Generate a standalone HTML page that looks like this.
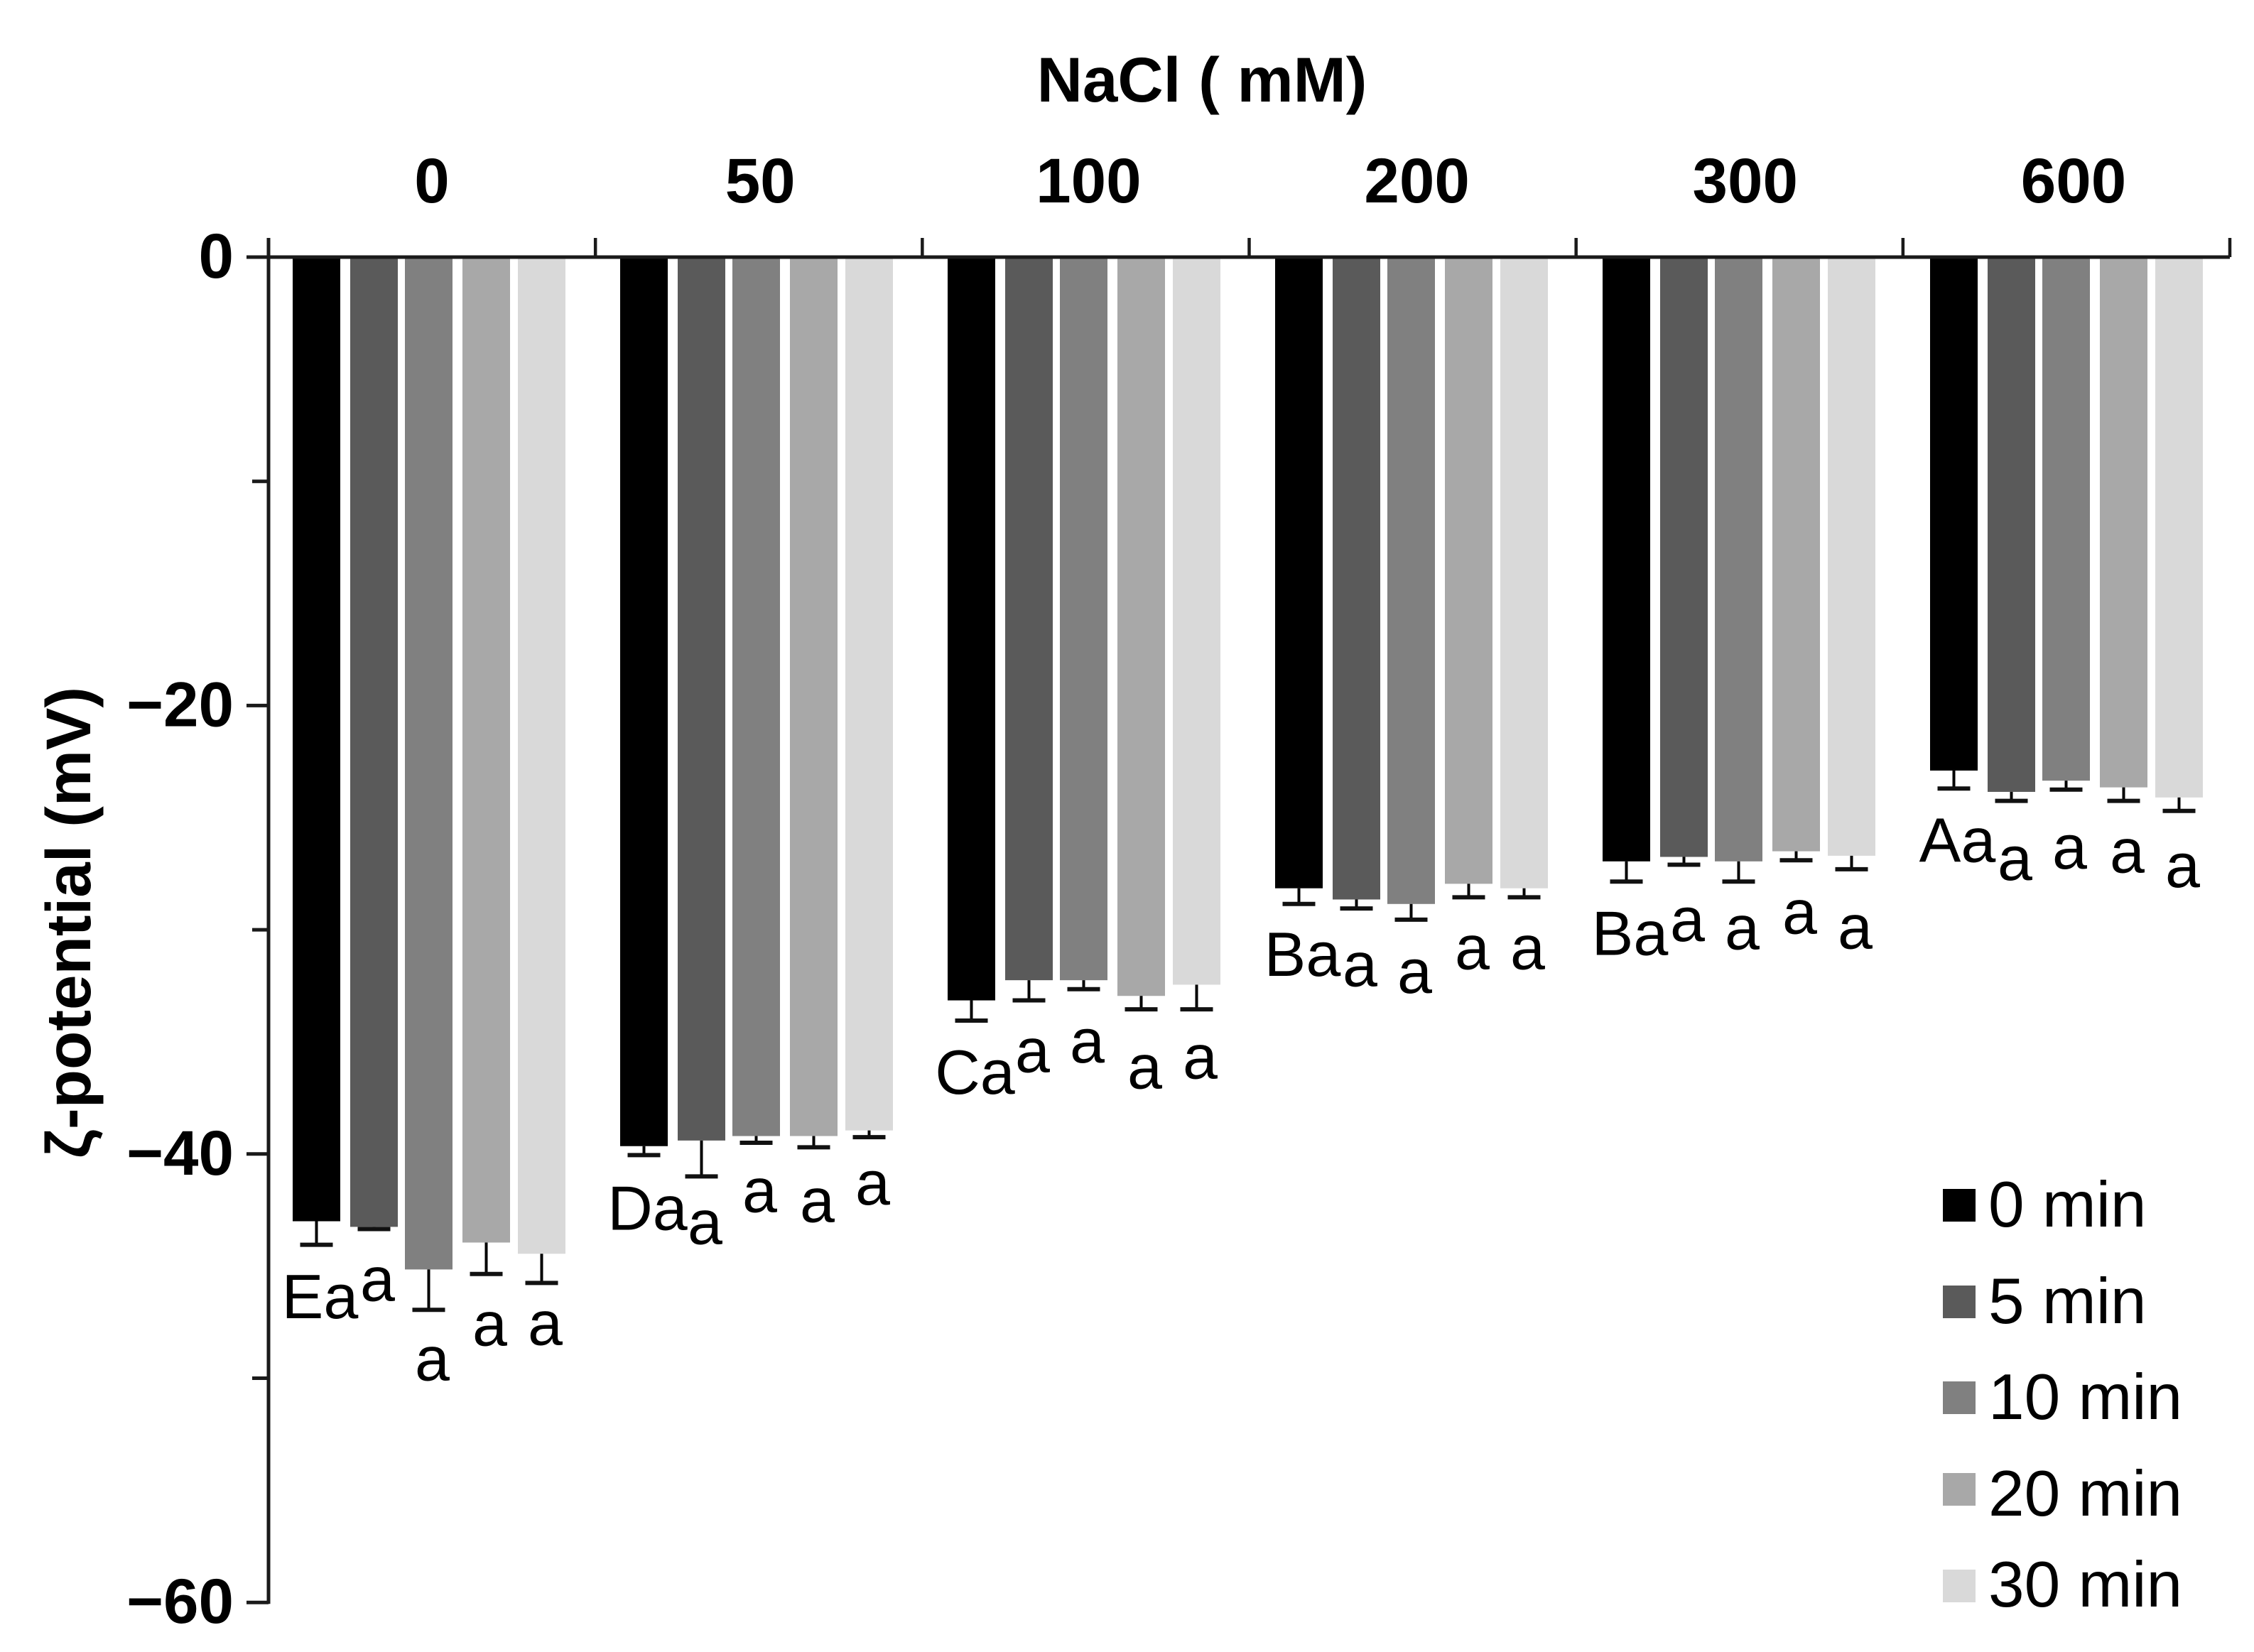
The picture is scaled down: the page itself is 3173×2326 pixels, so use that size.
<!DOCTYPE html>
<html lang="en">
<head>
<meta charset="utf-8">
<title>Zeta potential vs NaCl concentration</title>
<style>
  html, body { margin: 0; padding: 0; background: #ffffff; }
  svg { display: block; }
  text { font-family: "Liberation Sans", sans-serif; fill: #000000; }
  .bold { font-weight: 700; font-size: 89px; }
  .legend-text { font-size: 91px; }
  .letter { font-size: 88px; text-anchor: middle; }
</style>
</head>
<body>
<svg id="chart" xmlns="http://www.w3.org/2000/svg" width="3173" height="2326" viewBox="0 0 3173 2326">
  <rect x="0" y="0" width="3173" height="2326" fill="#ffffff"/>
  <text class="bold" x="1692" y="143" text-anchor="middle">NaCl ( mM)</text>
  <text class="bold" text-anchor="middle" transform="translate(127 1299) rotate(-90)">ζ-potential (mV)</text>
  <g id="bars"></g>
  <g id="errors"></g>
  <g id="axes"></g>
  <g id="letters"></g>
  <g id="legend">
    <g>
      <rect x="2735" y="1674" width="46" height="46" fill="#000000"/>
      <text class="legend-text" x="2799" y="1727">0 min</text>
    </g>
    <g>
      <rect x="2735" y="1810" width="46" height="46" fill="#5a5a5a"/>
      <text class="legend-text" x="2799" y="1863">5 min</text>
    </g>
    <g>
      <rect x="2735" y="1945" width="46" height="46" fill="#808080"/>
      <text class="legend-text" x="2799" y="1998">10 min</text>
    </g>
    <g>
      <rect x="2735" y="2074" width="46" height="46" fill="#a8a8a8"/>
      <text class="legend-text" x="2799" y="2134">20 min</text>
    </g>
    <g>
      <rect x="2735" y="2210" width="46" height="46" fill="#d9d9d9"/>
      <text class="legend-text" x="2799" y="2262">30 min</text>
    </g>
  </g>
</svg>
<script>
// ---- chart data ----
const categories = ['0', '50', '100', '200', '300', '600'];
const seriesNames = ['0 min', '5 min', '10 min', '20 min', '30 min'];
const yTickValues = [0, -10, -20, -30, -40, -50, -60];
const yTickLabels = ['0', '', '\u221220', '', '\u221240', '', '\u221260'];

const values0min = [-43.0, -39.65, -33.15, -28.15, -26.95, -22.9];
const values5min = [-43.25, -39.4, -32.25, -28.65, -26.75, -23.85];
const values10min = [-45.15, -39.2, -32.25, -28.85, -26.95, -23.35];
const values20min = [-43.95, -39.2, -32.95, -27.95, -26.5, -23.65];
const values30min = [-44.45, -38.95, -32.45, -28.15, -26.7, -24.1];

const errors0min = [1.05, 0.4, 0.9, 0.7, 0.9, 0.8];
const errors5min = [0.1, 1.6, 0.9, 0.4, 0.35, 0.4];
const errors10min = [1.8, 0.3, 0.4, 0.7, 0.9, 0.4];
const errors20min = [1.4, 0.5, 0.6, 0.6, 0.4, 0.6];
const errors30min = [1.3, 0.3, 1.1, 0.4, 0.6, 0.6];

const lettersFirstSeries = ['Ea', 'Da', 'Ca', 'Ba', 'Ba', 'Aa'];
const lettersOther = ['a', 'a', 'a', 'a', 'a', 'a'];
// distance from the error cap to the letter baseline, in mV
const letterGap0min = [3.27, 3.33, 3.27, 3.2, 3.27, 3.27];
const letterGap5min = [3.2, 3.01, 3.2, 3.46, 3.4, 3.53];
const letterGap10min = [3.14, 3.08, 3.27, 3.27, 3.01, 3.53];
const letterGap20min = [3.2, 3.33, 3.53, 3.2, 3.27, 3.2];
const letterGap30min = [2.76, 3.01, 3.08, 3.2, 3.53, 3.4];

// ---- layout and axis functions ----
const seriesValues = [values0min, values5min, values10min, values20min, values30min];
const seriesErrors = [errors0min, errors5min, errors10min, errors20min, errors30min];
const seriesGaps = [letterGap0min, letterGap5min, letterGap10min, letterGap20min, letterGap30min];
const seriesLetters = [lettersFirstSeries, lettersOther, lettersOther, lettersOther, lettersOther];
const seriesFills = ['#000000', '#5a5a5a', '#808080', '#a8a8a8', '#d9d9d9'];
const seriesSlugs = ['0-min', '5-min', '10-min', '20-min', '30-min'];

const SVG_NS = 'http://www.w3.org/2000/svg';
const PLOT_LEFT = 378;
const PLOT_RIGHT = 3139;
const TOP_TICK_TOP = 335;
const Y_ZERO = 362;
const PX_PER_MV = 31.57;
const BAR_WIDTH = 67;
const BAR_SLOTS = [0, 81, 158, 239, 317];
const GROUP_START = 412;
const GROUP_PITCH = 461;

function yScale(v) { return Y_ZERO - v * PX_PER_MV; }
function groupX(g) { return GROUP_START + g * GROUP_PITCH; }
function barX(g, s) { return groupX(g) + BAR_SLOTS[s]; }
function barCenter(g, s) { return barX(g, s) + BAR_WIDTH / 2; }
function categoryLabelX(g) { return 608 + g * 462.2; }
function topTickX(i) { return PLOT_LEFT + i * (PLOT_RIGHT - PLOT_LEFT) / categories.length; }

function make(tag, attrs) {
  const el = document.createElementNS(SVG_NS, tag);
  for (const key in attrs) el.setAttribute(key, attrs[key]);
  return el;
}

const barsLayer = document.getElementById('bars');
const errorsLayer = document.getElementById('errors');
const axesLayer = document.getElementById('axes');
const lettersLayer = document.getElementById('letters');

// ---- bars, error bars, letters ----
categories.forEach(function (cat, g) {
  seriesNames.forEach(function (name, s) {
    const value = seriesValues[s][g];
    const err = seriesErrors[s][g];
    const yEnd = yScale(value);
    const yCap = yScale(value - err);
    const cx = barCenter(g, s);

    const bar = make('rect', { x: barX(g, s), y: Y_ZERO - 2, width: BAR_WIDTH, height: yEnd - Y_ZERO + 2, fill: seriesFills[s] });
    
    
    barsLayer.appendChild(bar);

    const stem = make('line', { x1: cx, x2: cx, y1: yEnd, y2: yCap, stroke: '#000000', 'stroke-width': 4 });
    
    
    errorsLayer.appendChild(stem);

    const cap = make('line', { x1: cx - 23, x2: cx + 23, y1: yCap, y2: yCap, stroke: '#111111', 'stroke-width': 6 });
    
    
    errorsLayer.appendChild(cap);

    const letter = make('text', { x: cx + 5, y: yScale(value - err - seriesGaps[s][g]), class: 'letter' });
    
    
    letter.textContent = seriesLetters[s][g];
    lettersLayer.appendChild(letter);
  });

  const catLabel = make('text', { x: categoryLabelX(g), y: 285, class: 'bold', 'text-anchor': 'middle' });
  
  
  catLabel.textContent = cat;
  axesLayer.appendChild(catLabel);
});

// ---- axes ----
const yAxisLine = make('line', { x1: PLOT_LEFT, x2: PLOT_LEFT, y1: TOP_TICK_TOP, y2: yScale(-60) + 2, stroke: '#1a1a1a', 'stroke-width': 5 });


axesLayer.appendChild(yAxisLine);

const topAxisLine = make('line', { x1: PLOT_LEFT, x2: PLOT_RIGHT, y1: Y_ZERO, y2: Y_ZERO, stroke: '#1a1a1a', 'stroke-width': 5 });


axesLayer.appendChild(topAxisLine);

for (let i = 0; i <= categories.length; i++) {
  const tick = make('line', { x1: topTickX(i), x2: topTickX(i), y1: TOP_TICK_TOP, y2: Y_ZERO, stroke: '#1a1a1a', 'stroke-width': 4.5 });
  
  
  axesLayer.appendChild(tick);
}

yTickValues.forEach(function (v, i) {
  const isMajor = yTickLabels[i] !== '';
  const tick = make('line', { x1: isMajor ? PLOT_LEFT - 31 : PLOT_LEFT - 23, x2: PLOT_LEFT, y1: yScale(v), y2: yScale(v), stroke: '#1a1a1a', 'stroke-width': 5 });
  
  
  axesLayer.appendChild(tick);

  if (isMajor) {
    const label = make('text', { x: 329, y: yScale(v) + 29, class: 'bold', 'text-anchor': 'end' });
    
    
    label.textContent = yTickLabels[i];
    axesLayer.appendChild(label);
  }
});
</script>
</body>
</html>
